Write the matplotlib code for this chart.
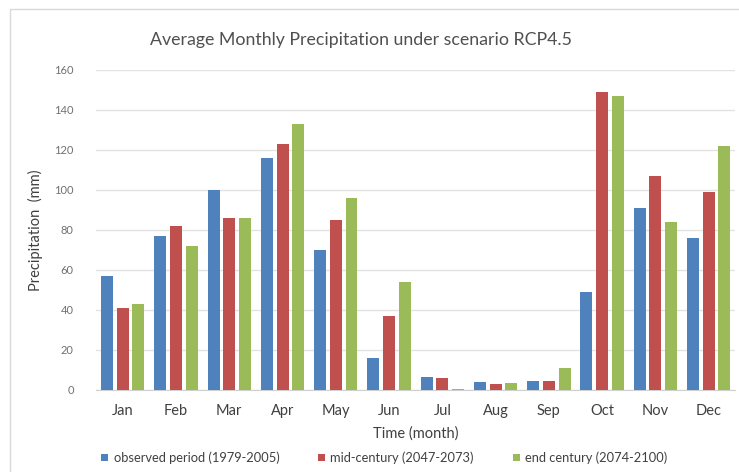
import numpy as np
import matplotlib.pyplot as plt
from matplotlib.patches import Rectangle

plt.rcParams['font.family'] = ['Lato', 'DejaVu Sans']

months = ['Jan', 'Feb', 'Mar', 'Apr', 'May', 'Jun',
          'Jul', 'Aug', 'Sep', 'Oct', 'Nov', 'Dec']
observed = [57, 77, 100, 116, 70, 16, 6.5, 3.7, 4.5, 49, 91, 76]
mid_century = [41, 82, 86, 123, 85, 37, 6, 3, 4.5, 149, 107, 99]
end_century = [43, 72, 86, 133, 96, 54, 0.5, 3.5, 11, 147, 84, 122]

series_labels = ['observed period (1979-2005)',
                 'mid-century (2047-2073)',
                 'end century (2074-2100)']
colors = ['#4F81BD', '#C0504D', '#9BBB59']

fig = plt.figure(figsize=(7.39, 4.72), dpi=100)
ax = fig.add_axes([0.130, 0.174, 0.865, 0.678])

x = np.arange(len(months))
width = 0.225
step = 0.295
for i, (vals, lab, col) in enumerate(zip([observed, mid_century, end_century],
                                          series_labels, colors)):
    ax.bar(x + (i - 1) * step, vals, width, color=col, label=lab, zorder=3)

ax.set_xlim(-0.5, len(months) - 0.5)
ax.set_ylim(0, 160)
ax.set_yticks(range(0, 161, 20))
ax.yaxis.grid(True, color='#E3E3E3', linewidth=1.0, zorder=0)
ax.set_xticks(x)
ax.set_xticklabels(months, fontsize=10.5, color='#404040')
ax.tick_params(axis='y', labelsize=8, colors='#707070', length=0, pad=16)
ax.tick_params(axis='x', length=0, pad=10)
for s in ['top', 'right', 'left']:
    ax.spines[s].set_visible(False)
ax.spines['bottom'].set_color('#D0D0D0')

ax.set_ylabel('Precipitation  (mm)', fontsize=10.5, color='#404040', labelpad=8)
ax.set_xlabel('Time (month)', fontsize=10.5, color='#404040', labelpad=6)
fig.text(0.488, 0.915, 'Average Monthly Precipitation under scenario RCP4.5',
         ha='center', va='center', fontsize=12.8, color='#505050')

handles, labels = ax.get_legend_handles_labels()
fig.legend(handles, labels, loc='center', bbox_to_anchor=(0.52, 0.03), ncol=3,
           frameon=False, fontsize=9.3, handlelength=0.55, handleheight=0.55,
           handletextpad=0.4, columnspacing=3.0, labelcolor='#404040')

# light frame around the chart area
fig.patches.append(Rectangle((0.014, -0.02), 1.0, 1.0, transform=fig.transFigure,
                             fill=False, edgecolor='#D9D9D9', linewidth=1.0))

fig.savefig('out.png', dpi=100)
